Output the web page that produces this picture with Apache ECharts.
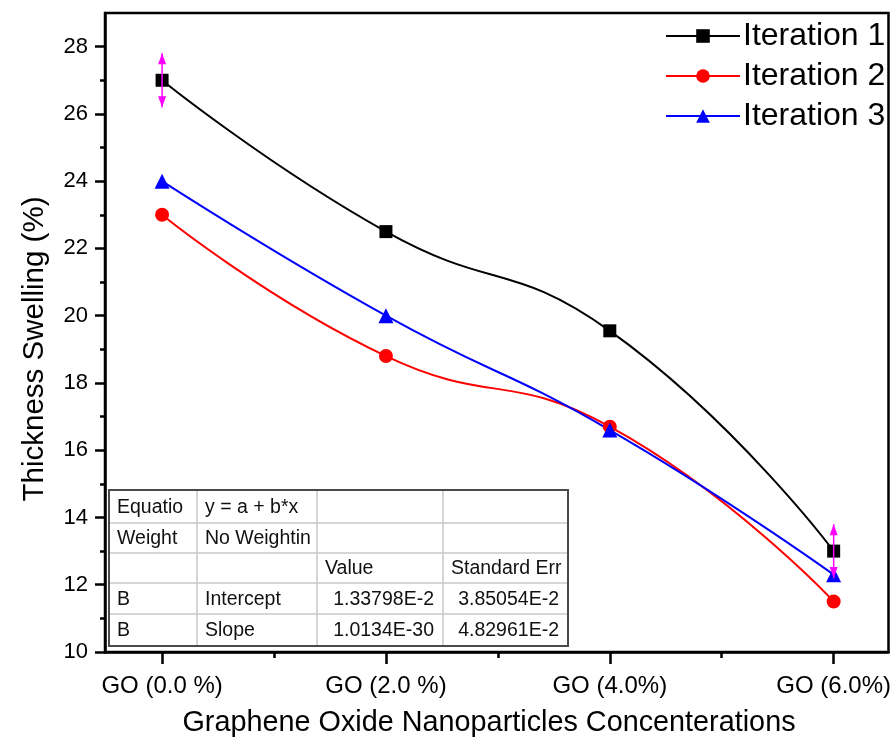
<!DOCTYPE html>
<html>
<head>
<meta charset="utf-8">
<script src="https://cdn.jsdelivr.net/npm/echarts@6/dist/echarts.min.js"></script>
<style>
html,body{margin:0;padding:0;background:#fff;}
#chart{width:894px;height:745px;}
</style>
</head>
<body>
<div id="chart"></div>
<script>
const categories = ['GO (0.0 %)', 'GO (2.0 %)', 'GO (4.0%)', 'GO (6.0%)'];
const seriesNames = ['Iteration 1', 'Iteration 2', 'Iteration 3'];
const iteration1 = [27, 22.5, 19.55, 13];
const iteration2 = [23, 18.8, 16.7, 11.5];
const iteration3 = [24, 20, 16.6, 12.3];
const iteration1Err = [0.8, null, null, 0.8];
const yMajorTicks = [10, 12, 14, 16, 18, 20, 22, 24, 26, 28];
const yMinorTicks = [11, 13, 15, 17, 19, 21, 23, 25, 27];
const xMajorTicks = [0, 1, 2, 3];
const xMinorTicks = [0.5, 1.5, 2.5];
const tableRows = [
  ['Equatio', 'y = a + b*x', '', ''],
  ['Weight', 'No Weightin', '', ''],
  ['', '', 'Value', 'Standard Err'],
  ['B', 'Intercept', '1.33798E-2', '3.85054E-2'],
  ['B', 'Slope', '1.0134E-30', '4.82961E-2']
];

const FONT = '"Liberation Sans", Arial, sans-serif';
const chart = echarts.init(document.getElementById('chart'));

function toPairs(arr) { return arr.map((v, i) => [i, v]); }
const errData = [];
iteration1.forEach((v, i) => {
  if (iteration1Err[i] != null) errData.push([i, v - iteration1Err[i], v + iteration1Err[i]]);
});

// table graphic
const tblLeft = 109, tblTop = 490;
const colX = [0, 88, 208, 334, 459];
const rowY = [0, 33, 63, 93, 124, 156];
const tableChildren = [];
tableChildren.push({type: 'rect', shape: {x: 0, y: 0, width: colX[4], height: rowY[5]},
  style: {fill: '#fff', stroke: '#4a4a4a', lineWidth: 2}});
for (let c = 1; c < 4; c++) {
  tableChildren.push({type: 'line', shape: {x1: colX[c], y1: 1, x2: colX[c], y2: rowY[5] - 1},
    style: {stroke: '#c8c8c8', lineWidth: 1.5}});
}
for (let r = 1; r < 5; r++) {
  tableChildren.push({type: 'line', shape: {x1: 1, y1: rowY[r], x2: colX[4] - 1, y2: rowY[r]},
    style: {stroke: '#c8c8c8', lineWidth: 1.5}});
}
tableRows.forEach((row, r) => {
  row.forEach((txt, c) => {
    if (!txt) return;
    const numeric = r >= 3 && c >= 2;
    tableChildren.push({type: 'text', style: {
      text: txt,
      x: numeric ? colX[c + 1] - 9 : colX[c] + 8,
      y: (rowY[r] + rowY[r + 1]) / 2 + 1,
      align: numeric ? 'right' : 'left',
      verticalAlign: 'middle',
      font: '19.5px ' + FONT,
      fill: '#111'
    }});
  });
});

const X_MIN = -0.255, X_MAX = 3.245;
const option = {
  animation: false,
  backgroundColor: '#fff',
  grid: {left: 105, right: 4, top: 13, bottom: 93, show: true, borderColor: '#000', borderWidth: 2.5, backgroundColor: 'transparent'},
  legend: {
    data: seriesNames,
    orient: 'vertical',
    left: 660,
    top: 15,
    itemWidth: 74,
    itemHeight: 17,
    itemGap: 8,
    textStyle: {fontSize: 32, fontFamily: FONT, color: '#000', padding: [0, 0, 0, -2]}
  },
  xAxis: [{
    type: 'value', min: X_MIN, max: X_MAX,
    axisLine: {show: true, onZero: false, lineStyle: {color: '#000', width: 2.5}},
    axisTick: {show: true, length: 12, lineStyle: {color: '#000', width: 2.5}, customValues: xMajorTicks},
    axisLabel: {show: true, customValues: xMajorTicks, margin: 22, fontSize: 24, fontFamily: FONT, color: '#000',
      formatter: v => categories[Math.round(v)]},
    splitLine: {show: false}
  }, {
    type: 'value', min: X_MIN, max: X_MAX, position: 'bottom',
    axisLine: {show: false, onZero: false},
    axisTick: {show: true, length: 6, lineStyle: {color: '#000', width: 2.5}, customValues: xMinorTicks},
    axisLabel: {show: false},
    splitLine: {show: false}
  }],
  yAxis: [{
    type: 'value', min: 10, max: 29,
    axisLine: {show: true, onZero: false, lineStyle: {color: '#000', width: 2.5}},
    axisTick: {show: true, length: 10, lineStyle: {color: '#000', width: 2.5}, customValues: yMajorTicks},
    axisLabel: {show: true, customValues: yMajorTicks, margin: 17, fontSize: 22, fontFamily: FONT, color: '#000'},
    splitLine: {show: false}
  }, {
    type: 'value', min: 10, max: 29, position: 'left', offset: 0,
    axisLine: {show: false, onZero: false},
    axisTick: {show: true, length: 5, lineStyle: {color: '#000', width: 2.5}, customValues: yMinorTicks},
    axisLabel: {show: false},
    splitLine: {show: false}
  }],
  graphic: [
    {type: 'text', rotation: Math.PI / 2, x: 35, y: 349, style: {text: 'Thickness Swelling (%)', font: '29.5px ' + FONT,
      fill: '#000', align: 'center', verticalAlign: 'middle'}},
    {type: 'text', x: 489, y: 723, style: {text: 'Graphene Oxide Nanoparticles Concenterations', font: '28.8px ' + FONT,
      fill: '#000', align: 'center', verticalAlign: 'middle'}},
    {type: 'group', x: tblLeft, y: tblTop, children: tableChildren, z: 50}
  ],
  series: [
    {name: seriesNames[0], type: 'line', data: toPairs(iteration1), smooth: 0.5, symbol: 'rect', symbolSize: 13,
      itemStyle: {color: '#000'}, lineStyle: {color: '#000', width: 2}, z: 4},
    {name: seriesNames[1], type: 'line', data: toPairs(iteration2), smooth: 0.5, symbol: 'circle', symbolSize: 14,
      itemStyle: {color: '#ff0000'}, lineStyle: {color: '#ff0000', width: 2}, z: 3},
    {name: seriesNames[2], type: 'line', data: toPairs(iteration3), smooth: 0.5, symbol: 'triangle', symbolSize: 15,
      itemStyle: {color: '#0000ff'}, lineStyle: {color: '#0000ff', width: 2}, z: 3},
    {name: 'err', type: 'custom', data: errData, z: 10, encode: {x: 0, y: [1, 2]},
      renderItem: function (params, api) {
        const x = api.value(0);
        const top = api.coord([x, api.value(2)]);
        const bot = api.coord([x, api.value(1)]);
        const c = '#ff00ff';
        return {type: 'group', children: [
          {type: 'line', shape: {x1: top[0], y1: top[1], x2: bot[0], y2: bot[1]}, style: {stroke: c, lineWidth: 1.5}},
          {type: 'polygon', shape: {points: [[top[0], top[1]], [top[0] - 4, top[1] + 11], [top[0] + 4, top[1] + 11]]}, style: {fill: c}},
          {type: 'polygon', shape: {points: [[bot[0], bot[1]], [bot[0] - 4, bot[1] - 11], [bot[0] + 4, bot[1] - 11]]}, style: {fill: c}}
        ]};
      }}
  ]
};
chart.setOption(option);
</script>
</body>
</html>
